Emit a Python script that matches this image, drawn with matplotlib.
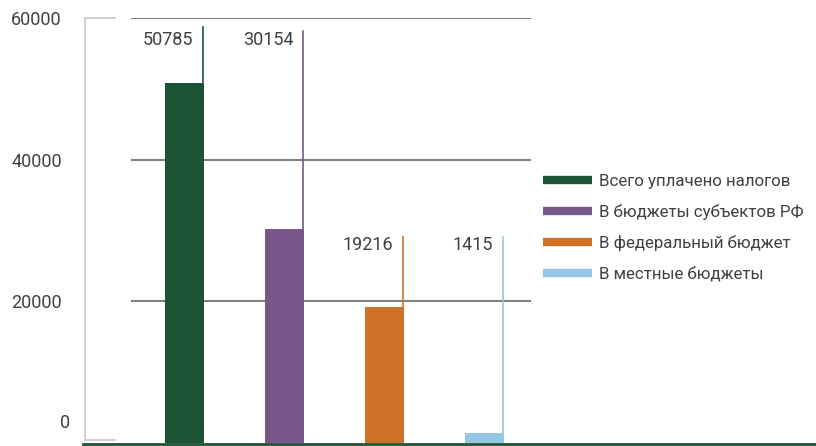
import matplotlib.pyplot as plt
from matplotlib.lines import Line2D
from matplotlib import transforms

plt.rcParams['font.family'] = ['Roboto', 'DejaVu Sans']

# tax payments, by budget level
labels = ['Всего уплачено налогов', 'В бюджеты субъектов РФ',
          'В федеральный бюджет', 'В местные бюджеты']
values = [50785, 30154, 19216, 1415]
colors = ['#1b5434', '#78578c', '#d07128', '#94c6e5']
ticks = [0, 20000, 40000, 60000]
# height reached by each callout line and its number
line_top = [58700, 58200, 29100, 29100]
text_y = [56900, 56900, 27950, 27950]

fig = plt.figure(figsize=(8.16, 4.46), dpi=100)
W, H = 816.0, 446.0
ax = fig.add_axes([83 / W, (H - 443) / H, (816 - 83) / W, 425 / H])
ax.set_xlim(-1.01, 6.32)
ax.set_ylim(0, 60000)
ax.axis('off')

txt = '#404040'
# gridlines over the bar area only
for t in ticks[1:]:
    ax.plot([-0.52, 3.46], [t, t], color='#808080', lw=1.5, zorder=1)

# light bracket on the left
ax.plot([-0.69, -0.99, -0.99, -0.69], [60000, 60000, 450, 450],
        color='#c8c8c8', lw=1.2, zorder=1, clip_on=False)

x = list(range(len(values)))
bw = 0.39
ax.bar(x, values, width=bw, color=colors, zorder=3)

for i, v in enumerate(values):
    xr = i + bw / 2 - 0.01
    ax.plot([xr, xr], [v, line_top[i]], color=colors[i], lw=1.2, zorder=3)
    ax.text(xr - 0.09, text_y[i], str(v), ha='right', va='center',
            fontsize=13, color=txt)

# dark baseline
ax.plot([-1.01, 6.32], [-150, -150], color='#1b5434', lw=2.0,
        zorder=4, clip_on=False)

# y tick labels
tr = transforms.blended_transform_factory(fig.transFigure, ax.transData)
for t in ticks:
    if t == 0:
        ax.text(70 / W, 2800, '0', transform=tr, ha='right', va='center',
                fontsize=13, color=txt)
    else:
        ax.text(62 / W, t - 300, str(t), transform=tr, ha='right',
                va='center', fontsize=13, color=txt)

handles = [Line2D([], [], color=c, lw=6, solid_capstyle='butt') for c in colors]
fig.legend(handles, labels, loc='upper left',
           bbox_to_anchor=(528 / W, (H - 159) / H), frameon=False,
           fontsize=12.2, handlelength=2.85, handletextpad=0.45,
           labelspacing=0.88, labelcolor=txt)

fig.savefig('out.png', dpi=100)
